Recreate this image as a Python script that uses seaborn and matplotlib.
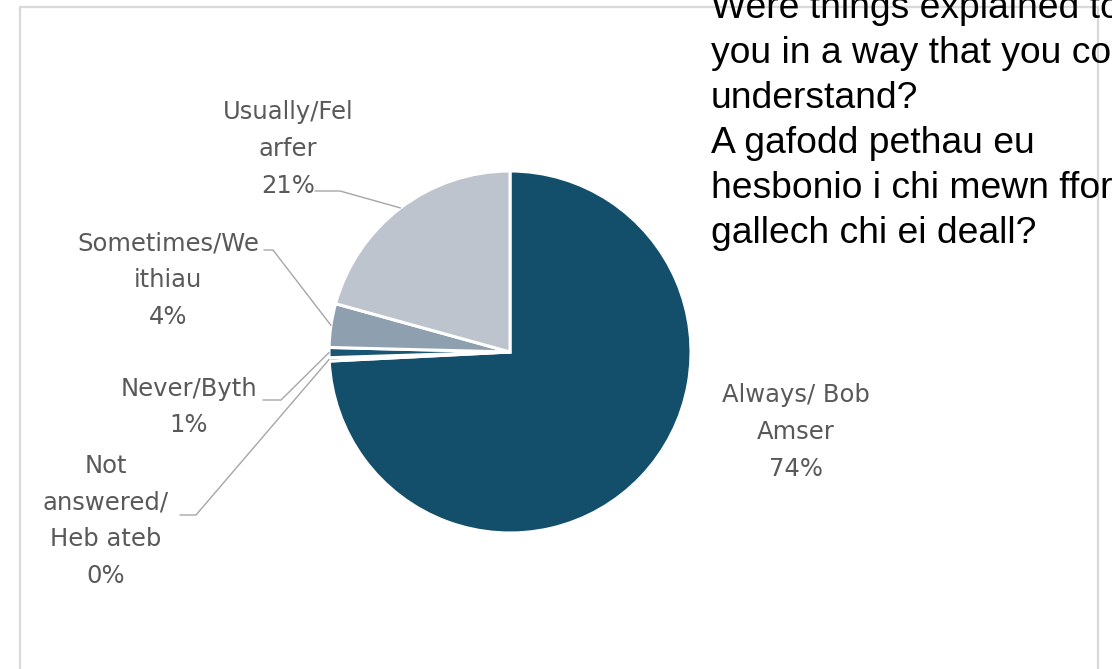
import numpy as np
import matplotlib
matplotlib.use("Agg")
import matplotlib.pyplot as plt
from matplotlib.patches import Rectangle
import seaborn as sns

# Survey responses (share of respondents, %)
categories = ["Always/ Bob\nAmser", "Not\nanswered/\nHeb ateb", "Never/Byth",
              "Sometimes/We\nithiau", "Usually/Fel\narfer"]
shares = [74.2, 0.3, 0.9, 3.9, 20.7]
colors = ["#134F6B", "#2E6A86", "#1A5573", "#8E9FB0", "#BDC4CD"]

title = ("Were things explained to\nyou in a way that you could\nunderstand?\n"
         "A gafodd pethau eu\nhesbonio i chi mewn ffordd y\ngallech chi ei deall?")

sns.set_theme(style="white")
plt.rcParams["font.family"] = ["Liberation Sans", "DejaVu Sans"]

W, H = 1112, 669
fig = plt.figure(figsize=(W / 100, H / 100), dpi=100)
ax = fig.add_axes([0, 0, 1, 1])

# chart area border
ax.add_patch(Rectangle((20, -5), 1078, 667, fill=False, edgecolor="#D9D9D9",
                       lw=1.6, zorder=0))

cx, cy, R = 510, 317, 181
wedges, _ = ax.pie(shares, colors=colors, startangle=90, counterclock=False,
                   center=(cx, cy), radius=R, frame=True,
                   wedgeprops=dict(edgecolor="white", linewidth=2.2))
ax.set_xlim(0, W)
ax.set_ylim(0, H)
ax.set_aspect("equal")
ax.axis("off")

# label text positions and leader-line starting points
label_pos = [(796, 237), (106, 148), (189, 262), (168, 389), (288, 520)]
leader_start = [None, [(180, 154), (196, 154)], [(263, 269), (281, 269)],
                [(264, 419), (273, 419)], [(315, 478), (340, 478)]]

label_color = "#595959"
for w, name, v, pos, start in zip(wedges, categories, shares, label_pos, leader_start):
    ax.text(pos[0], pos[1], f"{name}\n{round(v):.0f}%", ha="center", va="center",
            fontsize=17.5, color=label_color, linespacing=1.68,
            family=["DejaVu Sans"])
    if start is None:
        continue
    mid = np.deg2rad((w.theta1 + w.theta2) / 2)
    end = (cx + R * np.cos(mid), cy + R * np.sin(mid))
    xs = [p[0] for p in start] + [end[0]]
    ys = [p[1] for p in start] + [end[1]]
    ax.plot(xs, ys, color="#A6A6A6", lw=1.0, zorder=1)

ax.text(711, 678, title, ha="left", va="top", fontsize=26.8, color="black",
        linespacing=1.37)

fig.savefig("out.png", dpi=100)
